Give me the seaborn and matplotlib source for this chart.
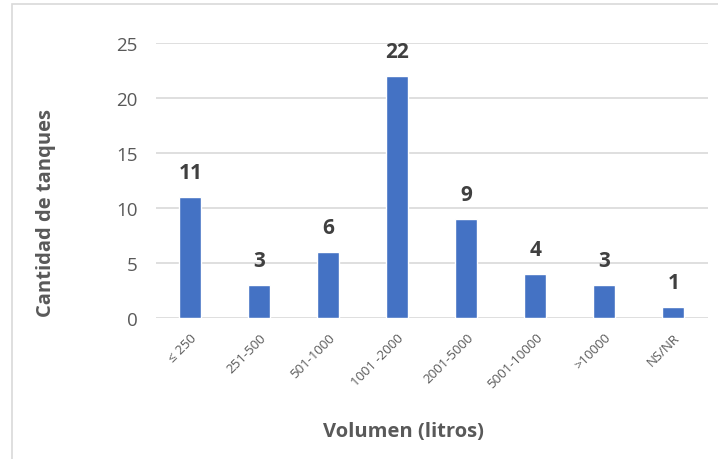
import pandas as pd
import numpy as np
import matplotlib
matplotlib.use('Agg')
import matplotlib.pyplot as plt
import seaborn as sns
from matplotlib.patches import Rectangle

# datos
categorias = ['≤ 250', '251-500', '501-1000', '1001 -2000', '2001-5000',
              '5001-10000', '>10000', 'NS/NR']
cantidades = [11, 3, 6, 22, 9, 4, 3, 1]

sns.set_theme(style='white')
plt.rcParams['font.family'] = ['Open Sans', 'DejaVu Sans']

gris = '#595959'
df = pd.DataFrame({'volumen': categorias, 'cantidad': cantidades})

fig = plt.figure(figsize=(7.18, 4.60), dpi=100)
ax = fig.add_axes([0.217, 0.3065, 0.769, 0.5975])

sns.barplot(data=df, x='volumen', y='cantidad', color='#4472C4',
            width=0.32, saturation=1, ax=ax, zorder=3)

ax.set_ylim(0, 25)
ax.set_yticks(np.arange(0, 26, 5))
ax.yaxis.grid(True, color='#d9d9d9', linewidth=1.2, zorder=0)
ax.xaxis.grid(False)
for s in ax.spines.values():
    s.set_visible(False)
ax.tick_params(axis='both', length=0)
ax.tick_params(axis='y', labelsize=13.5, labelcolor=gris, pad=13)
ax.tick_params(axis='x', labelsize=9.5, labelcolor=gris, pad=9)
for lbl in ax.get_xticklabels():
    lbl.set_rotation(45)
    lbl.set_ha('right')
    lbl.set_rotation_mode('anchor')

# etiquetas de datos
for i, v in enumerate(cantidades):
    ax.annotate(str(v), (i, v), xytext=(0, 10), textcoords='offset points',
                ha='center', va='bottom', fontsize=15, fontweight='bold',
                color='#404040')

ax.set_xlabel('')
ax.set_ylabel('')
fig.text(403 / 718, 1 - 432 / 460, 'Volumen (litros)', ha='center', va='center',
         fontsize=14.5, fontweight='bold', color=gris)
fig.text(46 / 718, 1 - 213 / 460, 'Cantidad de tanques', ha='center', va='center',
         rotation=90, fontsize=14.5, fontweight='bold', color=gris)

# borde del area del grafico
fig.patches.append(Rectangle((12 / 718, -0.1), 1.2, 1.1 - 5 / 460,
                             transform=fig.transFigure, fill=False,
                             edgecolor='#d9d9d9', linewidth=1.2))

fig.savefig('out.png', dpi=100)
